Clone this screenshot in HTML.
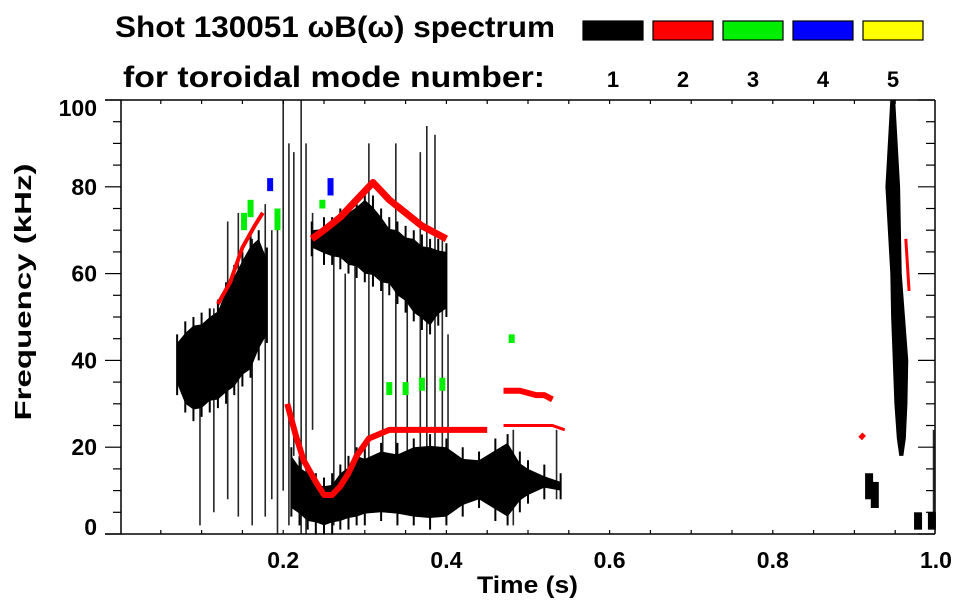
<!DOCTYPE html>
<html><head><meta charset="utf-8"><style>
html,body{margin:0;padding:0;background:#fff;}
svg{display:block;font-family:"Liberation Sans",Arial,sans-serif;font-weight:bold;}
</style></head><body>
<svg id="c" width="963" height="615" viewBox="0 0 963 615" xmlns="http://www.w3.org/2000/svg">
<text x="115" y="37" font-size="30" textLength="440" lengthAdjust="spacingAndGlyphs">Shot 130051 ωB(ω) spectrum</text>
<text x="123" y="87" font-size="30" textLength="422" lengthAdjust="spacingAndGlyphs">for toroidal mode number:</text>
<g id="legend"></g>
<g id="marks"></g>
<g id="axes"></g>
<text transform="translate(31,292) rotate(-90)" text-anchor="middle" font-size="23" textLength="257" lengthAdjust="spacingAndGlyphs">Frequency (kHz)</text>
<text x="477" y="593" font-size="24" textLength="101" lengthAdjust="spacingAndGlyphs">Time (s)</text>
</svg>
<script>
const modeLabels=["1","2","3","4","5"];
const modeColors=["#000000","#ff0000","#00ee00","#0000ff","#ffff00"];
const xTicks=[0.2,0.4,0.6,0.8,1.0];
const xTickLabels=["0.2","0.4","0.6","0.8","1.0"];
const yTicks=[0,20,40,60,80,100];
const yTickLabels=["0","20","40","60","80","100"];
// mode 1 bands: [time, lowFreq, highFreq]
const bandEarly=[[0.07,34,44],[0.08,30,47],[0.09,28,48],[0.10,29,49],[0.11,30,50],[0.12,31,52],[0.13,32,56],[0.14,34,60],[0.15,36,63],[0.16,38,67],[0.17,42,68],[0.18,46,64]];
const bandUpper=[[0.235,66,70],[0.25,64,71],[0.26,64,71],[0.27,63,73],[0.28,62,74],[0.29,61,76],[0.30,60,77],[0.31,59,76],[0.32,58,73],[0.33,57,71],[0.34,55,70],[0.35,53,69],[0.36,51,68],[0.37,49,67],[0.38,48,66],[0.39,50,66],[0.40,52,65]];
const bandLow=[[0.21,6,18],[0.22,4,16],[0.23,3,14],[0.24,2,12],[0.25,2,11],[0.26,2,12],[0.27,3,14],[0.28,3,16],[0.29,4,18],[0.30,4,18],[0.32,5,19],[0.34,4,19],[0.36,4,20],[0.38,3,21],[0.40,4,20],[0.42,6,18],[0.44,8,17],[0.46,5,20],[0.475,4,21],[0.49,7,17],[0.50,9,15],[0.52,10,14],[0.54,10,12]];
// late vertical band: [freq, leftTime, rightTime]
const bandRight=[[100,0.944,0.950],[90,0.941,0.953],[80,0.938,0.956],[70,0.941,0.957],[60,0.944,0.958],[50,0.945,0.962],[40,0.947,0.966],[30,0.949,0.965],[22,0.952,0.963],[18,0.955,0.960]];
const bandRightLow=[[0.918,8,14],[0.925,6,12],[0.978,1,5],[0.995,1,5]];
// vertical streaks: [time, lowFreq, highFreq]
const streaks=[[0.098,2,45],[0.115,5,52],[0.132,8,72],[0.145,4,74],[0.162,2,68],[0.178,4,76],[0.186,8,70],[0.193,0,75],[0.200,10,100],[0.207,2,90],[0.213,18,88],[0.222,0,100],[0.228,0,90],[0.236,24,74],[0.262,2,66],[0.276,5,60],[0.288,8,74],[0.305,5,90],[0.322,5,60],[0.338,15,90],[0.352,8,62],[0.368,6,88],[0.376,10,94],[0.386,12,92],[0.395,18,68],[0.402,18,46],[0.482,2,24],[0.535,8,24],[0.997,2,24]];
// mode 2 (red) ridges: [time, freq]
const redA=[[0.12,53],[0.135,58],[0.15,66],[0.165,71],[0.175,74]];
const redB=[[0.235,68],[0.25,70],[0.27,73],[0.29,77],[0.31,81],[0.33,77],[0.35,74],[0.37,71],[0.39,69],[0.40,68]];
const redC=[[0.205,30],[0.215,23],[0.225,17],[0.24,12],[0.25,9],[0.26,9],[0.27,11],[0.28,14],[0.29,18],[0.305,22],[0.33,24],[0.36,24],[0.39,24],[0.42,24],[0.45,24]];
const redD=[[0.47,33],[0.49,33],[0.51,32],[0.52,32],[0.53,31]];
const redE=[[0.47,25],[0.50,25],[0.53,25],[0.545,24]];
const redF=[[0.963,68],[0.965,62],[0.967,56]];
const redG=[[0.907,22],[0.912,23]];
// mode 3 (green) patches: [time, lowFreq, highFreq]
const greenP=[[0.152,70,74],[0.16,73,77],[0.193,70,75],[0.248,75,77],[0.33,32,35],[0.35,32,35],[0.37,33,36],[0.395,33,36],[0.48,44,46]];
// mode 4 (blue) patches
const blueP=[[0.184,79,82],[0.258,78,82]];

const X0=120,XS=816,Y0=534,YS=4.34;
const xs=t=>X0+XS*t, ys=f=>Y0-YS*f;
const NS="http://www.w3.org/2000/svg";
const mk=(tag,at,parent)=>{const e=document.createElementNS(NS,tag);for(const k in at)e.setAttribute(k,at[k]);parent.appendChild(e);return e;};
const lg=document.getElementById('legend'),mg=document.getElementById('marks'),ag=document.getElementById('axes');

modeLabels.forEach((l,i)=>{
 const r=mk('rect',{x:583+i*70,y:21,width:60,height:19,fill:modeColors[i],stroke:'#000','stroke-width':1.2},lg);
 
 
 const t=mk('text',{x:613+i*70,y:87,'text-anchor':'middle','font-size':22},lg);
 t.textContent=l;
 
 
});

function band(arr,color,name){
 let top=arr.map((d,i)=>xs(d[0])+','+(ys(d[2])+(i%2?3:0)));
 let bot=arr.slice().reverse().map((d,i)=>xs(d[0])+','+(ys(d[1])-(i%2?3:0)));
 const p=mk('polygon',{points:top.concat(bot).join(' '),fill:color},mg);
 
 
 arr.forEach(d=>{
  const l=mk('line',{x1:xs(d[0]),x2:xs(d[0]),y1:ys(d[2]+2),y2:ys(Math.max(0,d[1]-2)),stroke:color,'stroke-width':2},mg);
  
  
 });
}
band(bandEarly,'#000','mode1-early-band');
band(bandUpper,'#000','mode1-upper-band');
band(bandLow,'#000','mode1-low-band');
{
 const left=bandRight.map(d=>xs(d[1])+','+ys(d[0]));
 const right=bandRight.slice().reverse().map(d=>xs(d[2])+','+ys(d[0]));
 const p=mk('polygon',{points:left.concat(right).join(' '),fill:'#000'},mg);
 
 
}
bandRightLow.forEach(d=>{
 const r=mk('rect',{x:xs(d[0])-4,y:ys(d[2]),width:8,height:ys(d[1])-ys(d[2]),fill:'#000'},mg);
 
 
});
streaks.forEach(d=>{
 const l=mk('line',{x1:xs(d[0]),x2:xs(d[0]),y1:ys(d[2]),y2:ys(d[1]),stroke:'#000','stroke-width':1.6,opacity:0.85},mg);
 
 
});
function ridge(arr,w,name){
 const p=mk('polyline',{points:arr.map(d=>xs(d[0])+','+ys(d[1])).join(' '),fill:'none',stroke:'#ff0000','stroke-width':w,'stroke-linejoin':'round'},mg);
 
 
}
ridge(redA,4,'mode2-early-ridge');
ridge(redB,7,'mode2-upper-ridge');
ridge(redC,6,'mode2-low-ridge');
ridge(redD,6,'mode2-33khz-ridge');
ridge(redE,3,'mode2-25khz-ridge');
ridge(redF,3,'mode2-late-ridge');
ridge(redG,5,'mode2-late-patch');
function patches(arr,color,name){
 arr.forEach(d=>{
  const r=mk('rect',{x:xs(d[0])-3,y:ys(d[2]),width:6,height:ys(d[1])-ys(d[2]),fill:color},mg);
  
  
 });
}
patches(greenP,'#00ee00','mode3-patch');
patches(blueP,'#0000ff','mode4-patch');

[[105,100,935,100],[105,534,935,534],[121,100,121,534],[935,100,935,534]].forEach(a=>{
 const l=mk('line',{x1:a[0],y1:a[1],x2:a[2],y2:a[3],stroke:'#000','stroke-width':1.5},ag);
 
 
});
for(let f=0;f<=100;f+=5){
 const major=f%20===0;
 const y=ys(f);
 mk('line',{x1:121-(major?16:8),x2:121,y1:y,y2:y,stroke:'#000','stroke-width':1.2},ag);
 mk('line',{x1:935-(major?17:9),x2:935,y1:y,y2:y,stroke:'#000','stroke-width':1.2},ag);
}
for(let k=1;k<20;k++){
 const x=xs(k*0.05);
 mk('line',{x1:x,x2:x,y1:534,y2:530,stroke:'#000','stroke-width':1.2},ag);
 mk('line',{x1:x,x2:x,y1:100,y2:104,stroke:'#000','stroke-width':1.2},ag);
}
yTicks.forEach((v,i)=>{
 let by=ys(v)+8;
 if(by<116)by=116;
 if(by>535)by=535;
 const t=mk('text',{x:97,y:by,'text-anchor':'end','font-size':23},ag);
 t.textContent=yTickLabels[i];
 
 
});
xTicks.forEach((v,i)=>{
 const t=mk('text',{x:xs(v),y:568,'text-anchor':'middle','font-size':23},ag);
 t.textContent=xTickLabels[i];
 
 
});
</script>
</body></html>
